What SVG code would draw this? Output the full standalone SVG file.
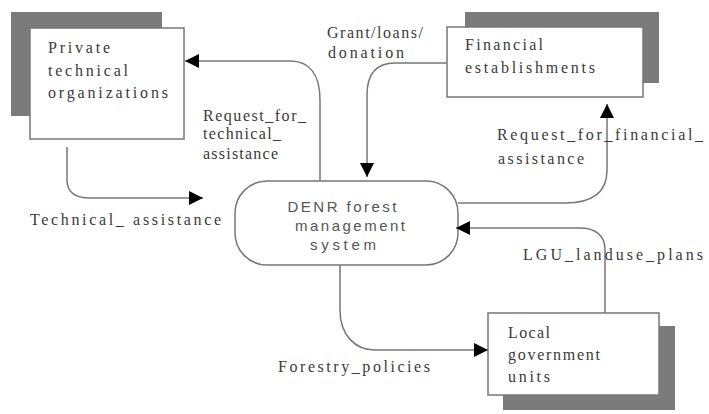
<svg xmlns="http://www.w3.org/2000/svg" width="709" height="414" viewBox="0 0 709 414">
<style>
.shadow{fill:#7b7b7b;stroke:none}
.box{fill:#fff;stroke:#777;stroke-width:1.5}
.proc{fill:#fff;stroke:#777;stroke-width:1.5}
.t{font-family:"Liberation Serif",serif;font-size:16px;fill:#3a3a3a}
.s{font-family:"Liberation Sans",sans-serif;font-size:15px;fill:#555;text-anchor:middle}
.c{fill:none;stroke:#777;stroke-width:1.5}
</style>
<defs>
<marker id="ah" viewBox="0 0 14 14" refX="14" refY="7" markerWidth="14" markerHeight="14" markerUnits="userSpaceOnUse" orient="auto">
<path d="M0,0 L14,7 L0,14 Z" fill="#000"/>
</marker>
</defs>
<rect width="709" height="414" fill="#fff"/>
<g id="private">
<rect class="shadow" x="11" y="12" width="151" height="104"/>
<rect class="box" x="30" y="28" width="154" height="111"/>
<text class="t" x="48" y="53" textLength="62" lengthAdjust="spacing">Private</text>
<text class="t" x="48" y="76" textLength="80" lengthAdjust="spacing">technical</text>
<text class="t" x="48" y="98" textLength="120" lengthAdjust="spacing">organizations</text>
</g>
<g id="financial">
<rect class="shadow" x="465" y="12" width="194" height="71"/>
<rect class="box" x="447" y="27" width="196" height="70"/>
<text class="t" x="465" y="50" textLength="78" lengthAdjust="spacing">Financial</text>
<text class="t" x="465" y="73" textLength="130" lengthAdjust="spacing">establishments</text>
</g>
<g id="lgu">
<rect class="shadow" x="503" y="326" width="172" height="84"/>
<rect class="box" x="488" y="313" width="171" height="82"/>
<text class="t" x="508" y="338" textLength="42" lengthAdjust="spacing">Local</text>
<text class="t" x="508" y="360" textLength="92" lengthAdjust="spacing">government</text>
<text class="t" x="508" y="382" textLength="42" lengthAdjust="spacing">units</text>
</g>
<g id="denr">
<rect class="proc" x="235" y="181" width="223" height="84" rx="32" ry="32"/>
<text class="s" x="342" y="212" textLength="109" lengthAdjust="spacing">DENR forest</text>
<text class="s" x="350" y="231" textLength="110" lengthAdjust="spacing">management</text>
<text class="s" x="343" y="250" textLength="66" lengthAdjust="spacing">system</text>
</g>
<g id="connectors">
<path class="c" marker-end="url(#ah)" d="M320,181 V100 C320,75 310,61 290,61 H185"/>
<path class="c" marker-end="url(#ah)" d="M67,147 V180 C67,192 75,198 90,198 H203"/>
<path class="c" marker-end="url(#ah)" d="M447,63 H395 C375,63 367,75 367,95 V177"/>
<path class="c" marker-end="url(#ah)" d="M458,203 H565 C595,203 607,190 607,170 V104"/>
<path class="c" marker-end="url(#ah)" d="M605,313 V250 C605,235 595,228 580,228 H456"/>
<path class="c" marker-end="url(#ah)" d="M340,265 V310 C340,335 355,350 375,350 H488"/>
</g>
<g id="labels">
<text class="t" x="327" y="38" textLength="96" lengthAdjust="spacing">Grant/loans/</text>
<text class="t" x="328" y="58" textLength="76" lengthAdjust="spacing">donation</text>
<text class="t" x="203" y="121" textLength="103" lengthAdjust="spacing">Request_for_</text>
<text class="t" x="203" y="139" textLength="78" lengthAdjust="spacing">technical_</text>
<text class="t" x="203" y="159" textLength="75" lengthAdjust="spacing">assistance</text>
<text class="t" x="30" y="225" textLength="191" lengthAdjust="spacing">Technical_ assistance</text>
<text class="t" x="497" y="140" textLength="206" lengthAdjust="spacing">Request_for_financial_</text>
<text class="t" x="498" y="164" textLength="86" lengthAdjust="spacing">assistance</text>
<text class="t" x="523" y="260" textLength="180" lengthAdjust="spacing">LGU_landuse_plans</text>
<text class="t" x="278" y="372" textLength="152" lengthAdjust="spacing">Forestry_policies</text>
</g>
</svg>
